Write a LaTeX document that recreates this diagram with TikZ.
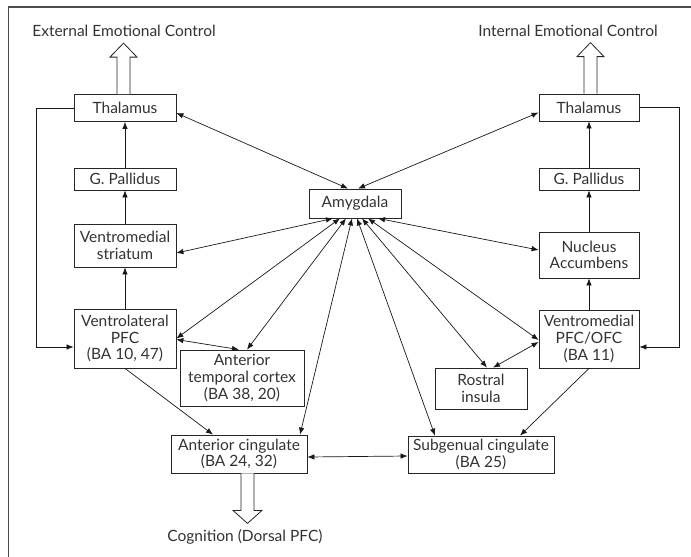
\documentclass[tikz,border=0pt]{standalone}
\usepackage{fontspec}
\setmainfont{Lato}
\usetikzlibrary{arrows.meta}
\begin{document}
\begin{tikzpicture}[x=1pt,y=-1pt,
  box/.style={draw=black!85, line width=0.8pt, inner sep=0pt, align=center, font=\fontsize{15.5}{16.6}\selectfont, text=black!80},
  lbl/.style={inner sep=0pt, font=\fontsize{15.5}{16.6}\selectfont, text=black!80},
  conn/.style={draw=black!90, line width=0.7pt},
  one/.style={conn, -{Latex[length=7pt,width=5.5pt]}},
  two/.style={conn, {Latex[length=7pt,width=5.5pt]}-{Latex[length=7pt,width=5.5pt]}},
  wide/.style={draw=black!85, line width=0.8pt, fill=white, line join=miter}]
\useasboundingbox (0,0) rectangle (691,557);
\draw[gray!60!black, line width=1.2pt] (8.5,557) -- (8.5,7) -- (691,7);

% left column
\node[box, minimum width=102pt, minimum height=27pt] (thL) at (125,108) {Thalamus};
\node[box, minimum width=102pt, minimum height=22pt] (gpL) at (125,179) {G. Pallidus};
\node[box, minimum width=102pt, minimum height=43pt] (vs) at (125,245.5) {Ventromedial\\striatum};
\node[box, minimum width=102pt, minimum height=59pt] (vlpfc) at (125,338.5) {Ventrolateral\\PFC\\(BA 10, 47)};
\node[box, minimum width=124pt, minimum height=56pt] (atc) at (242,378) {Anterior\\temporal cortex\\(BA 38, 20)};
\node[box, minimum width=136pt, minimum height=38pt] (acc) at (239,454) {Anterior cingulate\\(BA 24, 32)};
% centre
\node[box, minimum width=92pt, minimum height=29pt] (amy) at (355,203.5) {Amygdala};
% right column
\node[box, minimum width=100pt, minimum height=27pt] (thR) at (589,107.5) {Thalamus};
\node[box, minimum width=100pt, minimum height=22pt] (gpR) at (589,179) {G. Pallidus};
\node[box, minimum width=100pt, minimum height=46pt] (nacc) at (589,255) {Nucleus\\Accumbens};
\node[box, minimum width=100pt, minimum height=58pt] (vmpfc) at (589,339) {Ventromedial\\PFC/OFC\\(BA 11)};
\node[box, minimum width=92pt, minimum height=41pt] (ri) at (481,388.5) {Rostral\\insula};
\node[box, minimum width=146pt, minimum height=37pt] (sgc) at (481,454.5) {Subgenual cingulate\\(BA 25)};

% labels
\node[lbl] (extl) at (124,31) {External Emotional Control};
\node[lbl] (intl) at (568,31) {Internal Emotional Control};
\node[lbl] (cogl) at (245,537) {Cognition (Dorsal PFC)};

% wide arrows
\draw[wide] ([xshift=-8pt]thL.north) -- ++(0,-37) -- ++(-7,0) -- ++(13.5,-14) -- ++(13.5,14) -- ++(-7,0) -- ++(0,37);
\draw[wide] ([xshift=-5pt]thR.north) -- ++(0,-37) -- ++(-7,0) -- ++(13.5,-14) -- ++(13.5,14) -- ++(-7,0) -- ++(0,37);
\draw[wide] ([xshift=2pt]acc.south) -- ++(0,37) -- ++(-8,0) -- ++(14.5,13) -- ++(14.5,-13) -- ++(-8,0) -- ++(0,-37);

% vertical chains
\draw[one] (vlpfc.north) -- (vs.south);
\draw[one] (vs.north) -- (gpL.south);
\draw[one] (gpL.north) -- (thL.south);
\draw[one] (vmpfc.north) -- (nacc.south);
\draw[one] (nacc.north) -- (gpR.south);
\draw[one] (gpR.north) -- (thR.south);

% feedback loops
\draw[one] (thL.west) -- ++(-37,0) |- ([yshift=-8.5pt]vlpfc.west);
\draw[one] (thR.east) -- ++(40,0) |- ([yshift=-8pt]vmpfc.east);

% amygdala connections
\draw[two] ([yshift=-5pt]thL.east) -- ([xshift=-7pt]amy.north);
\draw[two] ([yshift=-5pt]thR.west) -- ([xshift=3pt]amy.north);
\draw[two] ([yshift=-7.5pt]vs.east) -- ([xshift=-22pt]amy.south);
\draw[two] ([yshift=5pt]nacc.west) -- ([xshift=23pt]amy.south);
\draw[two] (vlpfc.east) -- ([xshift=-15pt]amy.south);
\draw[two] ([xshift=5pt]atc.north) -- ([xshift=-9pt]amy.south);
\draw[two] ([xshift=61pt]acc.north) -- ([xshift=-3pt]amy.south);
\draw[two] ([xshift=-46pt]sgc.north) -- ([xshift=2pt]amy.south);
\draw[two] ([xshift=6pt]ri.north) -- ([xshift=7pt]amy.south);
\draw[two] ([yshift=-1pt]vmpfc.west) -- ([xshift=13pt]amy.south);

% other links
\draw[two] ([yshift=-1pt]vlpfc.east) -- ([xshift=-3pt]atc.north);
\draw[two] ([yshift=-3pt]vmpfc.west) -- ([xshift=12pt]ri.north);
\draw[one] (vlpfc.south) -- ([xshift=-26pt]acc.north);
\draw[one] (vmpfc.south) -- ([xshift=39pt]sgc.north);
\draw[two] ([yshift=-3pt]acc.east) -- ([yshift=-1.5pt]sgc.west);
\end{tikzpicture}
\end{document}
